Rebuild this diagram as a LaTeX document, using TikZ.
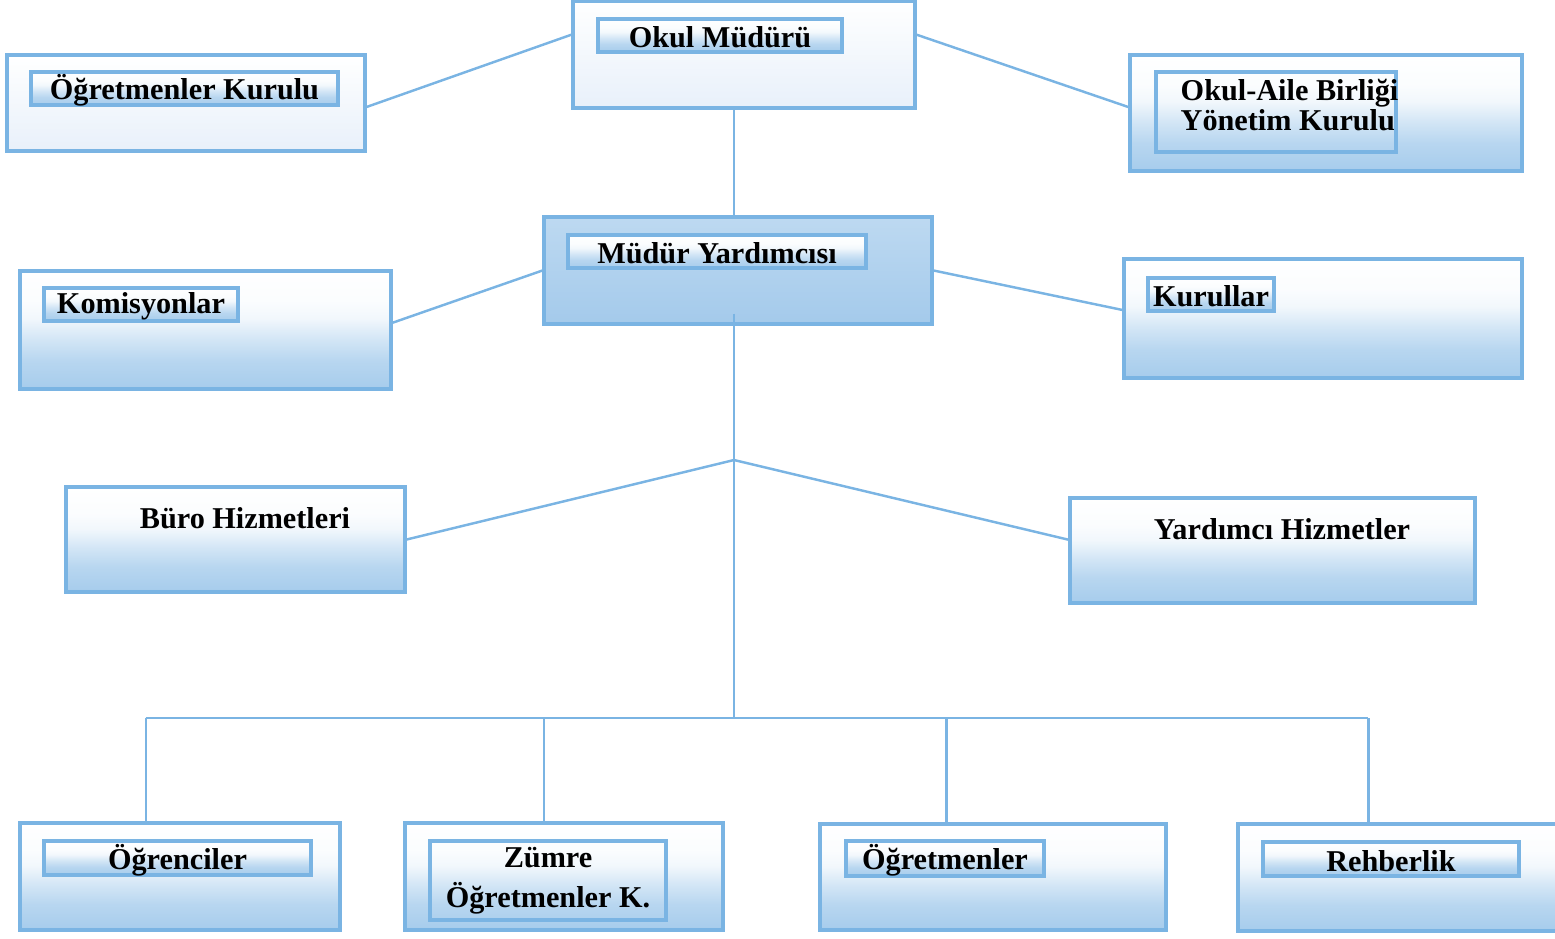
\documentclass[tikz,border=0pt]{standalone}
\usepackage{fontspec}
\setmainfont{Liberation Serif}
\usetikzlibrary{fit,calc}
\definecolor{bordc}{HTML}{7AB4E3}
\definecolor{bblue}{HTML}{A6CCEC}
\definecolor{lightb}{HTML}{E8F0FA}
\definecolor{mytop}{HTML}{BDD9F1}
\definecolor{mybot}{HTML}{A4CAEB}
\pgfdeclareverticalshading{outshade}{100bp}{color(0bp)=(bblue); color(25bp)=(bblue); color(37bp)=(bblue!80!white); color(46bp)=(bblue!50!white); color(55bp)=(bblue!15!white); color(62bp)=(bblue!5!white); color(75bp)=(white); color(100bp)=(white)}
\pgfdeclareverticalshading{lightshade}{100bp}{color(0bp)=(lightb); color(25bp)=(lightb); color(75bp)=(white); color(100bp)=(white)}
\pgfdeclareverticalshading{myshade}{100bp}{color(0bp)=(mybot); color(25bp)=(mybot); color(75bp)=(mytop); color(100bp)=(mytop)}
\newcommand{\lbl}{\fontsize{8.6}{8.6}\selectfont\bfseries}
\tikzset{
  obox/.style={draw=bordc, line width=0.9pt, inner sep=0pt, shading=outshade},
  lbox/.style={draw=bordc, line width=0.9pt, inner sep=0pt, shading=lightshade},
  ybox/.style={draw=bordc, line width=0.9pt, inner sep=0pt, shading=myshade},
  ibox/.style={draw=bordc, line width=0.9pt, inner sep=0pt, shading=outshade},
  ebox/.style={draw=bordc, line width=0.9pt, inner sep=0pt},
  txt/.style={inner sep=0pt, font=\lbl, yshift=-0.02cm},
  conn/.style={draw=bordc, line width=0.7pt},
}
\begin{document}
\begin{tikzpicture}[x=0.01cm, y=-0.01cm]
\useasboundingbox (0,0) rectangle (1555,938);
% top row
\node[lbox, fit={(573,1) (915,108)}] (om) {};
\node[ibox, fit={(598,19) (842,52)}] (omL) {};
\node[txt] (omT) at (omL.center) {Okul Müdürü};
\node[lbox, fit={(7,55) (365,151)}] (ok) {};
\node[ibox, fit={(31,72) (338,105)}] (okL) {};
\node[txt] (okT) at (okL.center) {Öğretmenler Kurulu};
\node[obox, fit={(1130,55) (1522,171)}] (oab) {};
\node[ebox, fit={(1156,72) (1396,152)}] (oabL) {};
\node[txt, align=left, anchor=north west] (oabT) at (1180,76) {Okul-Aile Birliği\\Yönetim Kurulu};
% second row
\node[ybox, fit={(544,217) (932,324)}] (my) {};
\node[ibox, fit={(568,235) (866,268)}] (myL) {};
\node[txt] (myT) at (myL.center) {Müdür Yardımcısı};
\node[obox, fit={(20,271) (391,389)}] (kom) {};
\node[ibox, fit={(44,288) (238,321)}] (komL) {};
\node[txt] (komT) at (komL.center) {Komisyonlar};
\node[obox, fit={(1124,259) (1522,378)}] (kur) {};
\node[ibox, fit={(1148,278) (1274,311)}] (kurL) {};
\node[txt] (kurT) at (kurL.center) {Kurullar};
% third row
\node[obox, fit={(66,487) (405,592)}] (buro) {};
\node[txt] (buroT) at (245,516) {Büro Hizmetleri};
\node[obox, fit={(1070,498) (1475,603)}] (yh) {};
\node[txt] (yhT) at (1282,527) {Yardımcı Hizmetler};
% bottom row
\node[obox, fit={(20,823) (340,930)}] (ogr) {};
\node[ibox, fit={(44,841) (311,875)}] (ogrL) {};
\node[txt] (ogrT) at (ogrL.center) {Öğrenciler};
\node[obox, fit={(405,823) (723,930)}] (zum) {};
\node[ebox, fit={(430,841) (666,920)}] (zumL) {};
\node[txt, align=center, font=\fontsize{8.6}{11.4}\selectfont\bfseries] (zumT) at (548,879) {Zümre\\Öğretmenler K.};
\node[obox, fit={(820,824) (1166,930)}] (ogt) {};
\node[ibox, fit={(846,841) (1044,876)}] (ogtL) {};
\node[txt] (ogtT) at (ogtL.center) {Öğretmenler};
\node[obox, fit={(1238,824) (1562,931)}] (reh) {};
\node[ibox, fit={(1263,842) (1519,876)}] (rehL) {};
\node[txt] (rehT) at (rehL.center) {Rehberlik};
% connectors
\coordinate (t) at (734,460);
\coordinate (bus) at (734,718);
\draw[conn] ($(om.north west)!0.32!(om.south west)$) -- ($(ok.north east)!0.54!(ok.south east)$);
\draw[conn] ($(om.north east)!0.32!(om.south east)$) -- ($(oab.north west)!0.45!(oab.south west)$);
\draw[conn] (om.south -| t) -- (my.north -| t);
\draw[conn] (my.west) -- ($(kom.north east)!0.44!(kom.south east)$);
\draw[conn] (my.east) -- ($(kur.north west)!0.43!(kur.south west)$);
\draw[conn] ($(my.south -| t)+(0,-12)$) -- (bus);
\draw[conn] (t) -- (buro.east);
\draw[conn] (t) -- ($(yh.north west)!0.4!(yh.south west)$);
\coordinate (d1) at ($(ogr.north west)!0.394!(ogr.north east)$);
\coordinate (d2) at ($(zum.north west)!0.437!(zum.north east)$);
\coordinate (d3) at ($(ogt.north west)!0.367!(ogt.north east)$);
\coordinate (d4) at ($(reh.north west)!0.403!(reh.north east)$);
\draw[conn] (d1 |- bus) -- (d4 |- bus);
\draw[conn] (d1) -- (d1 |- bus);
\draw[conn] (d2) -- (d2 |- bus);
\draw[conn] (d3) -- (d3 |- bus);
\draw[conn] (d4) -- (d4 |- bus);
\end{tikzpicture}
\end{document}
